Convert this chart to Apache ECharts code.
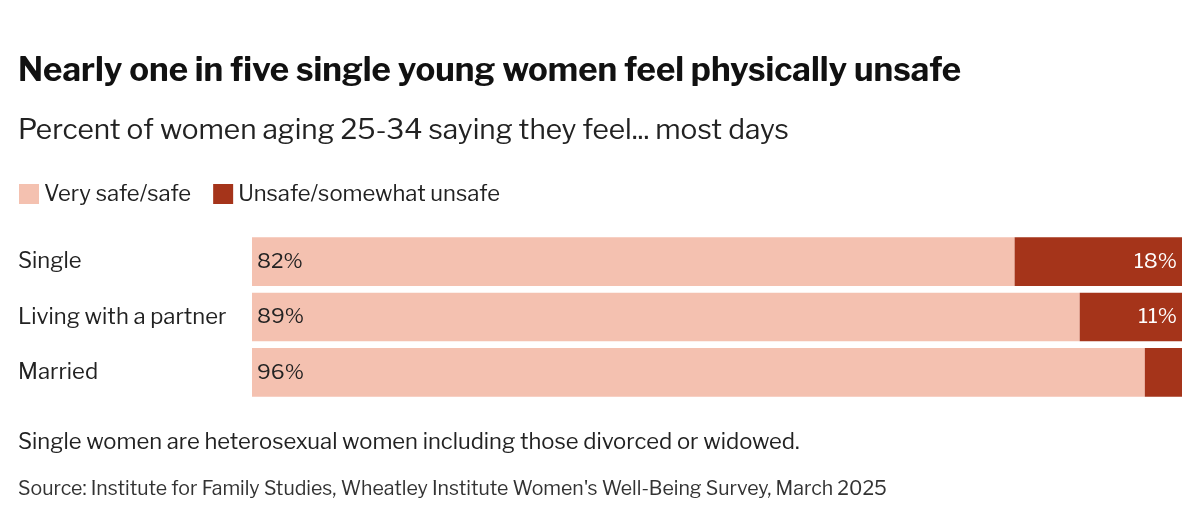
<!DOCTYPE html>
<html><head><meta charset="utf-8">
<script src="https://cdn.jsdelivr.net/npm/echarts@6/dist/echarts.min.js"></script>
<style>html,body{margin:0;background:#fff}#c{width:1200px;height:522px}</style>
</head><body><div id="c"></div>
<script>
const categories = ['Single', 'Living with a partner', 'Married'];
const safe = [82, 89, 96];
const unsafe = [18, 11, 4];
const seriesNames = ['Very safe/safe', 'Unsafe/somewhat unsafe'];

const font = 'Franklin Gothic, "Libre Franklin", "Noto Sans", sans-serif';
const chart = echarts.init(document.getElementById('c'));
chart.setOption({
  backgroundColor: '#fff',
  animation: false,
  textStyle: { fontFamily: font },
  title: [
    { text: 'Nearly one in five single young women feel physically unsafe', left: 13, top: 50,
      textStyle: { fontSize: 33, fontWeight: 'bold', color: '#111', fontFamily: font } },
    { text: 'Percent of women aging 25-34 saying they feel... most days', left: 13, top: 112,
      textStyle: { fontSize: 28, fontWeight: 'normal', color: '#222', fontFamily: font } },
    { text: 'Single women are heterosexual women including those divorced or widowed.', left: 13, top: 426,
      textStyle: { fontSize: 22, fontWeight: 'normal', color: '#222', fontFamily: font } },
    { text: "Source: Institute for Family Studies, Wheatley Institute Women's Well-Being Survey, March 2025", left: 13, top: 474,
      textStyle: { fontSize: 19.5, fontWeight: 'normal', color: '#333', fontFamily: font } }
  ],
  legend: {
    left: 14, top: 178, itemWidth: 20, itemHeight: 20, itemGap: 22, icon: 'rect',
    textStyle: { fontSize: 22, color: '#222', fontFamily: font }
  },
  grid: { left: 252, right: 18, top: 234, bottom: 122 },
  xAxis: { type: 'value', min: 0, max: 100, show: false },
  yAxis: {
    type: 'category', data: categories, inverse: true,
    axisLine: { show: false }, axisTick: { show: false },
    axisLabel: { align: 'left', margin: 234, fontSize: 22, color: '#222', fontFamily: font }
  },
  series: [
    { name: seriesNames[0], type: 'bar', stack: 's', data: safe, barCategoryGap: '12%',
      itemStyle: { color: '#f4c1b0' },
      label: { show: true, position: 'insideLeft', formatter: '{c}%',
        fontSize: 21, color: '#222', fontFamily: font } },
    { name: seriesNames[1], type: 'bar', stack: 's', data: unsafe,
      itemStyle: { color: '#a5341a' },
      label: { show: true, position: 'insideRight', fontSize: 21, color: '#fff', fontFamily: font,
        formatter: p => p.value >= 10 ? p.value + '%' : '' } }
  ]
});
</script></body></html>
